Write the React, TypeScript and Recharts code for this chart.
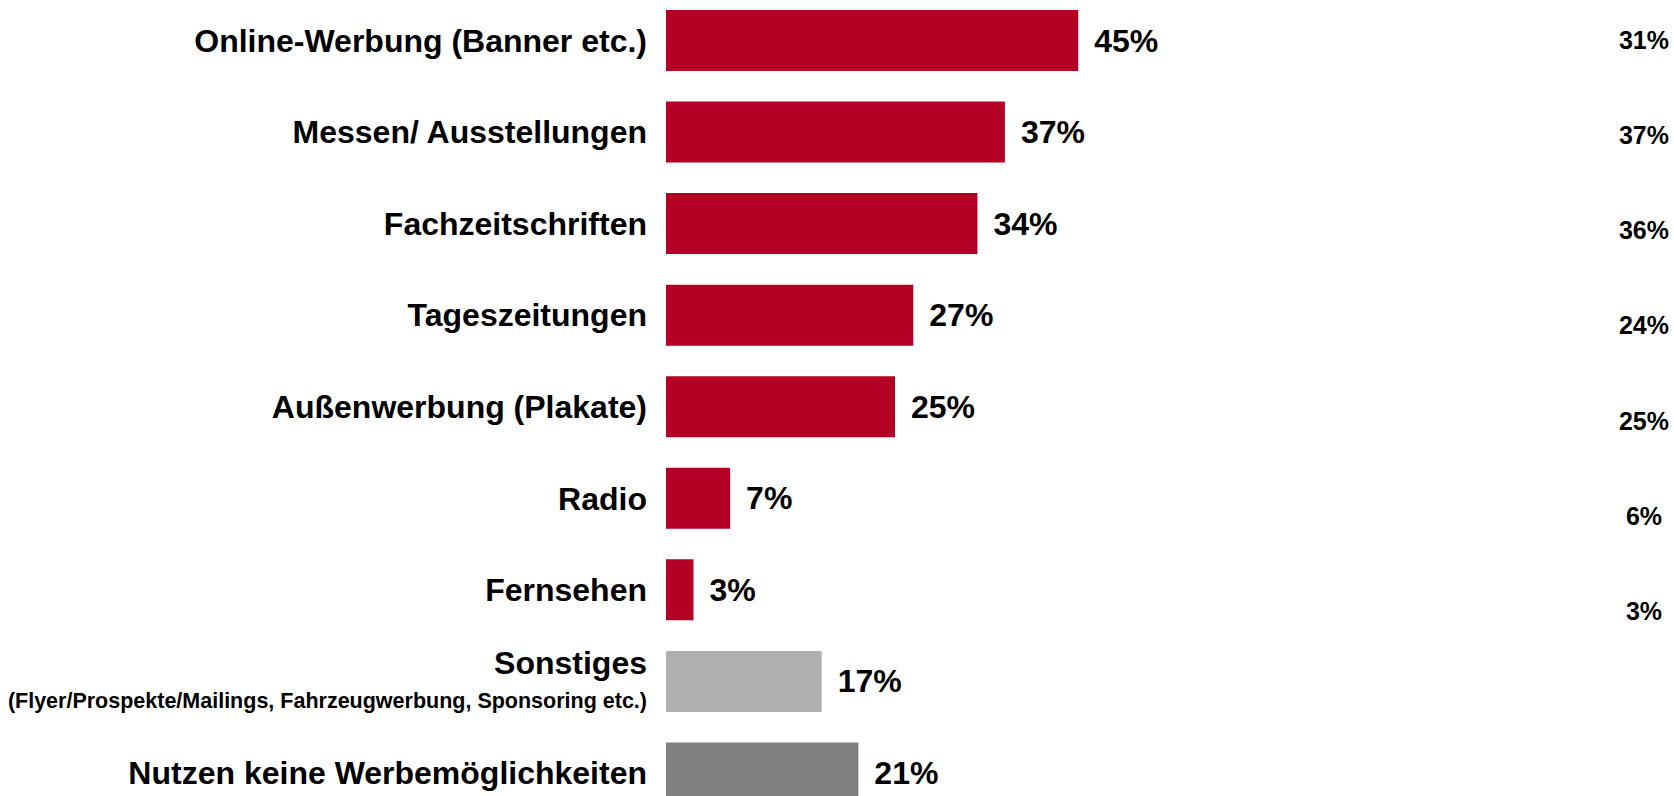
import React from "react";
import { BarChart, Bar, XAxis, YAxis, Cell, LabelList } from "recharts";

const categories = [
  "Online-Werbung (Banner etc.)",
  "Messen/ Ausstellungen",
  "Fachzeitschriften",
  "Tageszeitungen",
  "Außenwerbung (Plakate)",
  "Radio",
  "Fernsehen",
  "Sonstiges",
  "Nutzen keine Werbemöglichkeiten",
];
const subLabels: Record<string, string> = {
  Sonstiges: "(Flyer/Prospekte/Mailings, Fahrzeugwerbung, Sponsoring etc.)",
};
const values = [45, 37, 34, 27, 25, 7, 3, 17, 21];
const compareValues: (number | null)[] = [31, 37, 36, 24, 25, 6, 3, null, null];
const colors = ["#B40024", "#B40024", "#B40024", "#B40024", "#B40024", "#B40024", "#B40024", "#B0B0B0", "#808080"];

const data = categories.map((name, i) => ({ name, value: values[i], compare: compareValues[i], color: colors[i] }));

const FONT = "'Liberation Sans', Arial, sans-serif";

const LeftTick = (props: any) => {
  const { x, y, payload } = props;
  const sub = subLabels[payload.value];
  if (sub) {
    return (
      <g>
        <text x={x - 11} y={y - 19} textAnchor="end" dominantBaseline="central" fontFamily={FONT} fontWeight="bold" fontSize={32} fill="#000">
          {payload.value}
        </text>
        <text x={x - 11} y={y + 19} textAnchor="end" dominantBaseline="central" fontFamily={FONT} fontWeight="bold" fontSize={21.5} fill="#000">
          {sub}
        </text>
      </g>
    );
  }
  return (
    <text x={x - 11} y={y} textAnchor="end" dominantBaseline="central" fontFamily={FONT} fontWeight="bold" fontSize={32} fill="#000">
      {payload.value}
    </text>
  );
};

const RightTick = (props: any) => {
  const { x, y, index } = props;
  const v = compareValues[index];
  if (v == null) return null;
  return (
    <text x={x + 54} y={y} textAnchor="middle" dominantBaseline="central" fontFamily={FONT} fontWeight="bold" fontSize={25} fill="#000">
      {v}%
    </text>
  );
};

const ValueLabel = (props: any) => {
  const { x, y, width, height, value } = props;
  return (
    <text x={x + width + 16} y={y + height / 2} textAnchor="start" dominantBaseline="central" fontFamily={FONT} fontWeight="bold" fontSize={32} fill="#000">
      {value}%
    </text>
  );
};

export default function App() {
  return (
    <div style={{ position: "absolute", left: 0, top: -5, width: 1674, height: 824 }}>
      <BarChart width={1674} height={824} data={data} layout="vertical" margin={{ top: 0, right: 0, bottom: 0, left: 0 }} barSize={61}>
        <XAxis type="number" domain={[0, 100]} hide />
        <YAxis yAxisId="left" type="category" dataKey="name" width={666} axisLine={false} tickLine={false} tick={<LeftTick />} interval={0} />
        <YAxis yAxisId="right" orientation="right" type="category" dataKey="name" width={92} axisLine={false} tickLine={false} tick={<RightTick />} interval={0} padding={{ top: -3, bottom: -30 }} />
        <Bar yAxisId="left" dataKey="value" isAnimationActive={false}>
          {data.map((d, i) => (
            <Cell key={i} fill={d.color} />
          ))}
          <LabelList dataKey="value" content={<ValueLabel />} />
        </Bar>
      </BarChart>
    </div>
  );
}
